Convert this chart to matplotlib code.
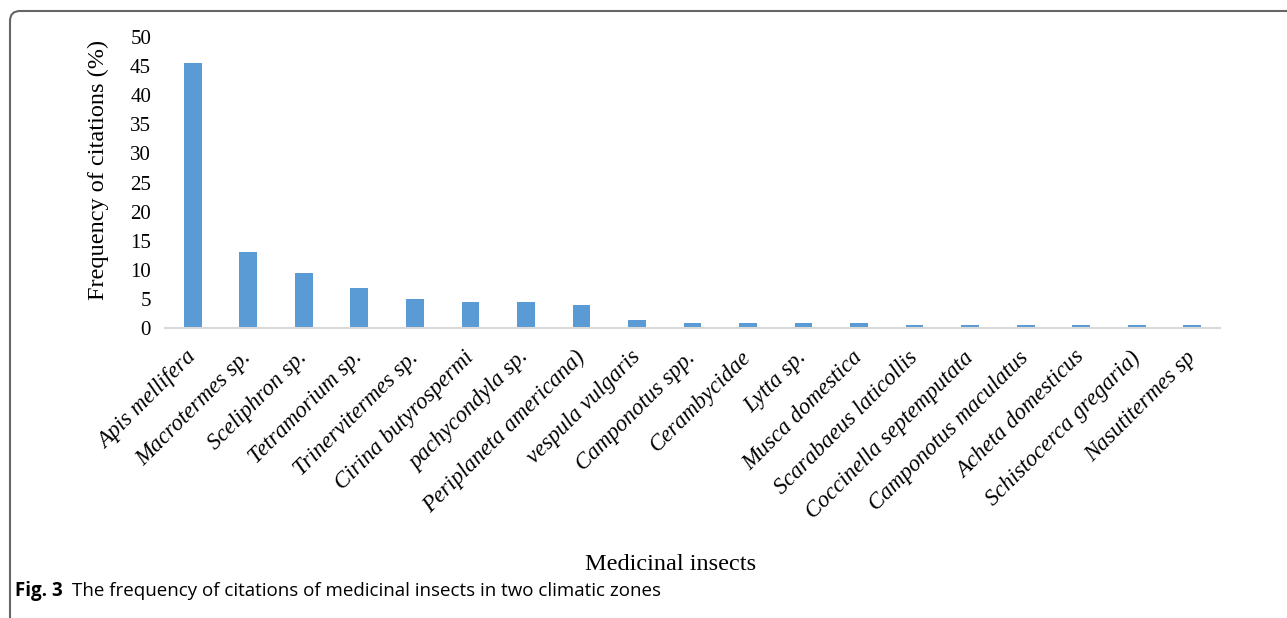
import matplotlib
matplotlib.use("Agg")
import matplotlib.pyplot as plt
from matplotlib.patches import FancyBboxPatch

# Datos
insects = ["Apis mellifera", "Macrotermes sp.", "Sceliphron sp.", "Tetramorium sp.",
           "Trinervitermes sp.", "Cirina butyrospermi", "pachycondyla sp.",
           "Periplaneta americana)", "vespula vulgaris", "Camponotus spp.",
           "Cerambycidae", "Lytta sp.", "Musca domestica", "Scarabaeus laticollis",
           "Coccinella septemputata", "Camponotus maculatus", "Acheta domesticus",
           "Schistocerca gregaria)", "Nasutitermes sp"]
freq = [45.6, 13.0, 9.4, 6.8, 4.9, 4.5, 4.5, 4.0, 1.3, 0.9,
        0.9, 0.9, 0.9, 0.45, 0.45, 0.45, 0.45, 0.45, 0.45]
yticks = [0, 5, 10, 15, 20, 25, 30, 35, 40, 45, 50]

W, H = 1287, 618
fig = plt.figure(figsize=(W / 100, H / 100), dpi=100)
ax = fig.add_axes([165 / W, 1 - 328 / H, (1220 - 165) / W, (328 - 37) / H])

x = range(len(insects))
ax.bar(x, freq, width=0.32, color="#5B9BD5", zorder=2)
ax.set_xlim(-0.5, len(insects) - 0.5)
ax.set_ylim(0, 50)

for s in ["top", "right", "left"]:
    ax.spines[s].set_visible(False)
ax.spines["bottom"].set_color("#D9D9D9")
ax.spines["bottom"].set_linewidth(1.5)

ax.set_yticks(yticks)
ax.set_yticklabels([str(v) for v in yticks], family="Liberation Serif", fontsize=15)
ax.tick_params(axis="y", length=0, pad=10)
ax.set_xticks(list(x))
ax.set_xticklabels(insects, rotation=45, ha="right", va="center",
                   rotation_mode="anchor", family="Liberation Serif",
                   style="italic", fontsize=16.5)
ax.tick_params(axis="x", length=0, pad=19)

# titulos de ejes
fig.text(98 / W, 1 - 170 / H, "Frequency of citations (%)", family="Liberation Serif",
         fontsize=17.5, rotation=90, ha="center", va="center")
fig.text(671 / W, 1 - 565 / H, "Medicinal insects", family="Liberation Serif",
         fontsize=17.5, ha="center", va="center")

# Pie de figura
fig.text(15 / W, 1 - 591 / H, "Fig. 3", family="Open Sans", weight="bold",
         fontsize=13.5, ha="left", va="center")
fig.text(72 / W, 1 - 591 / H, "The frequency of citations of medicinal insects in two climatic zones",
         family="Open Sans", fontsize=13.5, ha="left", va="center")

# Marco redondeado (solo izquierda y arriba visibles)
frame = FancyBboxPatch((10, -30), W + 40, H - 11 + 30,
                       boxstyle="round,pad=0,rounding_size=10",
                       transform=None, fill=False, edgecolor="#666666", linewidth=1.5)
fig.patches.append(frame)

fig.savefig("out.png", dpi=100)
